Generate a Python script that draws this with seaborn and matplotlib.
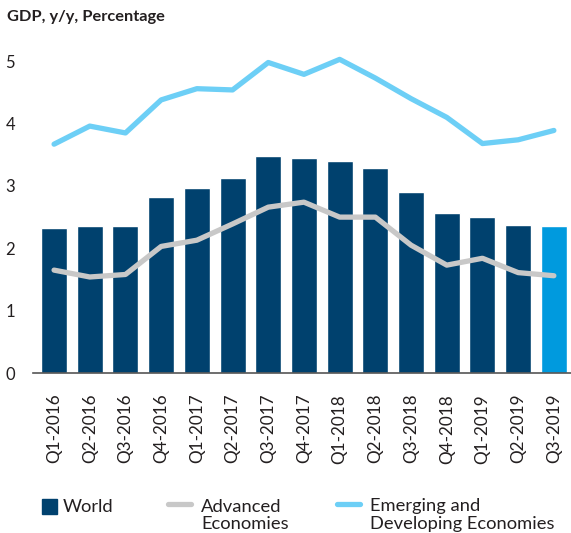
import numpy as np
import matplotlib
matplotlib.use("Agg")
import matplotlib.pyplot as plt
from matplotlib.lines import Line2D
import seaborn as sns

# data
quarters = ["Q1-2016", "Q2-2016", "Q3-2016", "Q4-2016",
            "Q1-2017", "Q2-2017", "Q3-2017", "Q4-2017",
            "Q1-2018", "Q2-2018", "Q3-2018", "Q4-2018",
            "Q1-2019", "Q2-2019", "Q3-2019"]
world = [2.32, 2.36, 2.36, 2.83, 2.97, 3.12, 3.48, 3.45,
         3.40, 3.29, 2.90, 2.57, 2.50, 2.37, 2.35]
advanced = [1.65, 1.54, 1.58, 2.03, 2.13, 2.39, 2.66, 2.74,
            2.50, 2.50, 2.05, 1.73, 1.84, 1.61, 1.56]
emerging = [3.67, 3.96, 3.85, 4.38, 4.56, 4.54, 4.98, 4.79,
            5.03, 4.73, 4.40, 4.10, 3.68, 3.74, 3.89]

navy = "#00416E"
light_bar = "#009ADE"
sky = "#6DCFF6"
grey = "#C8C8C8"
text_col = "#231F20"

sns.set_style("white")
plt.rcParams["font.family"] = ["Lato", "DejaVu Sans"]

W, H = 571, 533
fig = plt.figure(figsize=(W / 100, H / 100), dpi=100)
ax = fig.add_axes([33 / W, 160 / H, 1 - 33 / W, 0.62])

bar_colors = [navy] * (len(quarters) - 1) + [light_bar]
sns.barplot(x=quarters, y=world, hue=quarters, palette=bar_colors,
            legend=False, width=0.73, saturation=1, ax=ax)

xs = np.arange(len(quarters))
sns.lineplot(x=xs, y=advanced, color=grey, linewidth=3.8, ax=ax,
             solid_capstyle="round")
sns.lineplot(x=xs, y=emerging, color=sky, linewidth=3.8, ax=ax,
             solid_capstyle="round")

ax.set_xlim(-0.59, 14.48)
ax.set_ylim(0, 5.3)
ax.set_yticks([0, 1, 2, 3, 4, 5])
ax.set_xlabel("")
ax.set_ylabel("")
ax.tick_params(axis="y", length=0, pad=13, labelsize=12, labelcolor=text_col)
ax.tick_params(axis="x", length=0, pad=15, labelsize=12.3, labelcolor=text_col)
ax.set_xticks(xs)
ax.set_xticklabels(quarters, rotation=90, ha="center", va="top")

for s in ["top", "right", "left"]:
    ax.spines[s].set_visible(False)
ax.spines["bottom"].set_color("#555555")
ax.spines["bottom"].set_linewidth(1.2)

fig.text(7 / W, 1 - 17 / H, "GDP, y/y, Percentage", fontsize=11.8,
         fontweight="bold", color=text_col, va="center", ha="left")

# legend drawn by hand in figure pixels
def fx(px):
    return px / W

def fy(py):
    return 1 - py / H

fig.add_artist(plt.Rectangle((fx(42), fy(514)), 15 / W, 15 / H,
                             transform=fig.transFigure, color=navy))
fig.add_artist(Line2D([fx(168), fx(191)], [fy(504), fy(504)],
                      transform=fig.transFigure, color=grey,
                      linewidth=3.8, solid_capstyle="round"))
fig.add_artist(Line2D([fx(337), fx(360)], [fy(504), fy(504)],
                      transform=fig.transFigure, color=sky,
                      linewidth=3.8, solid_capstyle="round"))
legend_texts = [(63, "World"), (201, "Advanced\nEconomies"),
                (370, "Emerging and\nDeveloping Economies")]
for px, label in legend_texts:
    fig.text(fx(px), fy(498.5), label, fontsize=13.2, color=text_col,
             ha="left", va="top", linespacing=1.1)

fig.savefig("out.png", dpi=100)
